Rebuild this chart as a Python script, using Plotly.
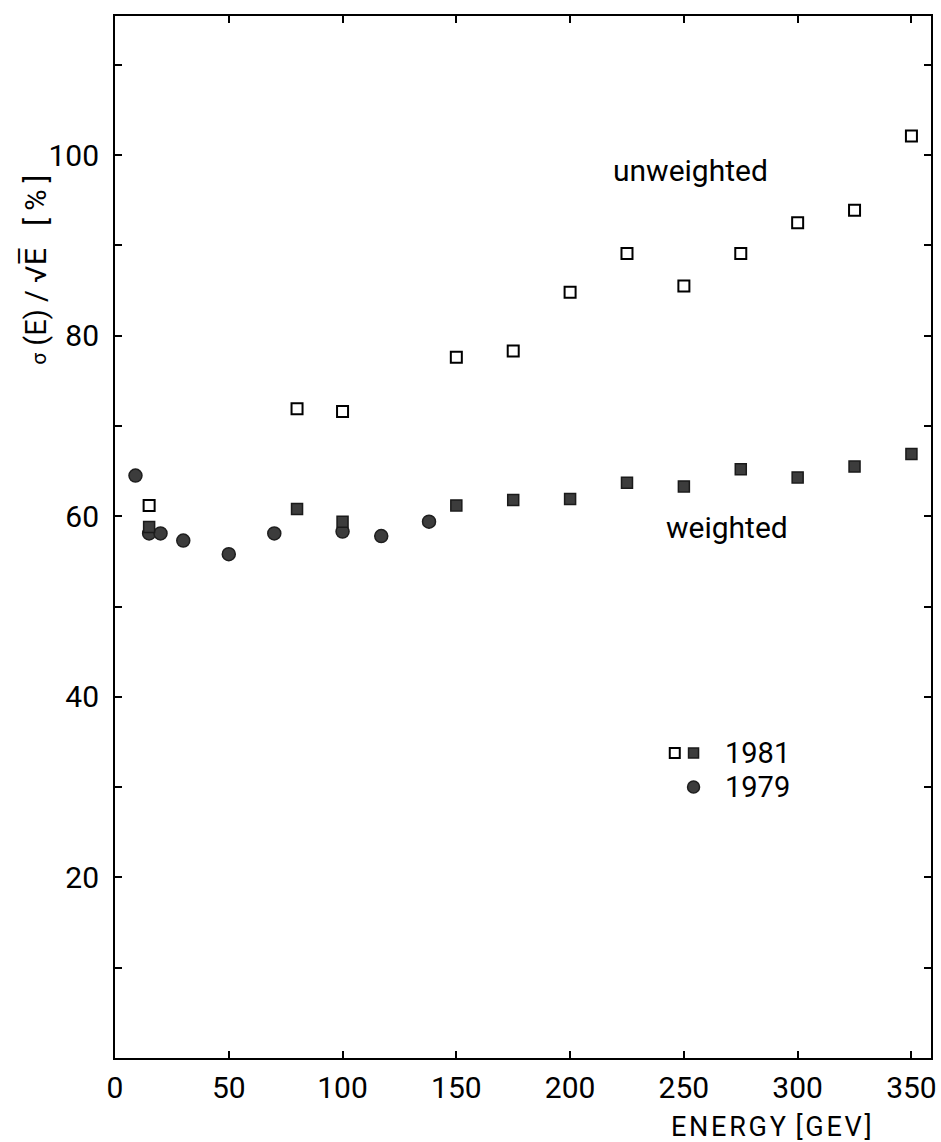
import plotly.graph_objects as go

# ---- data ----
energy_1981 = [15, 80, 100, 150, 175, 200, 225, 250, 275, 300, 325, 350]
unweighted_1981 = [61.2, 71.9, 71.6, 77.6, 78.3, 84.8, 89.1, 85.5, 89.1, 92.5, 93.9, 102.1]
weighted_1981 = [58.8, 60.8, 59.4, 61.2, 61.8, 61.9, 63.7, 63.3, 65.2, 64.3, 65.5, 66.9]
energy_1979 = [9, 15, 20, 30, 50, 70, 100, 117, 138]
weighted_1979 = [64.5, 58.1, 58.1, 57.3, 55.8, 58.1, 58.3, 57.8, 59.4]

x_tickvals = [0, 50, 100, 150, 200, 250, 300, 350]
x_ticktext = ["0", "50", "100", "150", "200", "250", "300", "350"]
y_tickvals = [10, 20, 30, 40, 50, 60, 70, 80, 90, 100, 110]
y_ticktext = ["", "20", "", "40", "", "60", "", "80", "", "100", ""]

FONT = "Roboto, DejaVu Sans, sans-serif"
DARK = "#3c3c3c"

fig = go.Figure()

fig.add_trace(go.Scatter(
    x=energy_1979, y=weighted_1979, mode="markers", name="1979",
    marker=dict(symbol="circle", size=13, color=DARK, line=dict(color="#1e1e1e", width=1.5)),
))
fig.add_trace(go.Scatter(
    x=energy_1981, y=weighted_1981, mode="markers", name="1981 weighted",
    marker=dict(symbol="square", size=11, color=DARK, line=dict(color="#1a1a1a", width=1.5)),
))
fig.add_trace(go.Scatter(
    x=energy_1981, y=unweighted_1981, mode="markers", name="1981 unweighted",
    marker=dict(symbol="square", size=11, color="white", line=dict(color="black", width=2)),
))

axis_common = dict(
    showline=True, linecolor="black", linewidth=2, mirror="ticks",
    ticks="inside", ticklen=7, tickwidth=2, tickcolor="black",
    showgrid=False, zeroline=False,
    tickfont=dict(family=FONT, size=30, color="black"),
)

fig.update_xaxes(range=[0, 358.6], tickmode="array", tickvals=x_tickvals,
                 ticktext=x_ticktext, ticklabelstandoff=2, **axis_common)
fig.update_yaxes(range=[0, 115.4], tickmode="array", tickvals=y_tickvals,
                 ticktext=y_ticktext, ticklabelstandoff=8, **axis_common)

txt = dict(family=FONT, size=30, color="black")
annotations = [
    dict(text="unweighted", x=252.7, y=98.3, xref="x", yref="y", showarrow=False,
         xanchor="center", yanchor="middle", font=txt),
    dict(text="weighted", x=268.9, y=58.7, xref="x", yref="y", showarrow=False,
         xanchor="center", yanchor="middle", font=txt),
    dict(text="1981", x=0.7445, y=0.2927, xref="paper", yref="paper", xanchor="left",
         yanchor="middle", showarrow=False, font=dict(family=FONT, size=29, color="black")),
    dict(text="1979", x=0.7445, y=0.260, xref="paper", yref="paper", xanchor="left",
         yanchor="middle", showarrow=False, font=dict(family=FONT, size=29, color="black")),
    dict(text="E\u200aN\u200aE\u200aR\u200aG\u200aY\u200a [\u200aG\u200aE\u200aV\u200a]",
         x=0.805, y=-0.066, xref="paper", yref="paper", showarrow=False,
         xanchor="center", yanchor="middle",
         font=dict(family=FONT, size=27, color="black")),
    dict(text="<span style='font-size:21px'>σ</span> (E) / √E\u0305   [ % ]",
         x=-0.0973, y=0.756, xref="paper", yref="paper", showarrow=False,
         xanchor="center", yanchor="middle",
         textangle=-90, font=dict(family=FONT, size=29, color="black")),
]

shapes = [
    dict(type="rect", xref="paper", yref="paper", xsizemode="pixel", ysizemode="pixel",
         xanchor=0.686, yanchor=0.2927, x0=-5, x1=5, y0=-5, y1=5,
         line=dict(color="black", width=2), fillcolor="white"),
    dict(type="rect", xref="paper", yref="paper", xsizemode="pixel", ysizemode="pixel",
         xanchor=0.709, yanchor=0.2927, x0=-5, x1=5, y0=-5, y1=5,
         line=dict(color="#1a1a1a", width=1.5), fillcolor=DARK),
    dict(type="circle", xref="paper", yref="paper", xsizemode="pixel", ysizemode="pixel",
         xanchor=0.709, yanchor=0.260, x0=-6, x1=6, y0=-6, y1=6,
         line=dict(color="#1e1e1e", width=1.5), fillcolor=DARK),
]

fig.update_layout(
    width=941, height=1142,
    margin=dict(l=115, r=4, t=16, b=84),
    paper_bgcolor="white", plot_bgcolor="white",
    showlegend=False,
    annotations=annotations, shapes=shapes,
)

fig.write_html("out.html")
